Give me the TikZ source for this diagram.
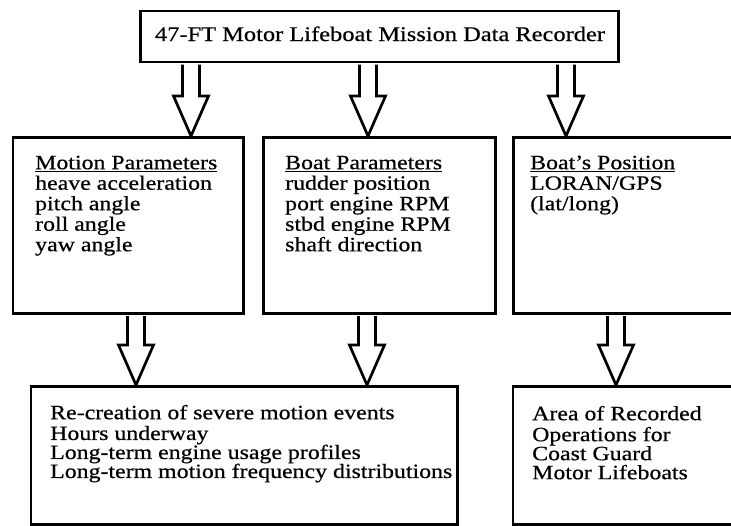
\documentclass[tikz,border=0pt]{standalone}
\usepackage{fontspec}
\setmainfont{Liberation Serif}[FakeStretch=1.175,FakeBold=0.5]
\usetikzlibrary{calc}
\tikzset{
  boxshape/.style={draw, line width=2.8pt, rectangle, inner sep=0pt, anchor=north west},
  txt/.style={inner sep=0pt, anchor=north west, align=left, font=\fontsize{20.3}{20.5}\selectfont},
  txtlow/.style={inner sep=0pt, anchor=north west, align=left, font=\fontsize{20.3}{19}\selectfont},
  toptxt/.style={inner sep=0pt, anchor=base, font=\fontsize{20.8}{21}\selectfont},
  barrow/.style={draw, line width=2.7pt, fill=white, line join=miter},
}
\newcommand\blockarrow[3]{%
  \draw[barrow] let \p1=(#2.south), \p2=(#3.north), \p3=(#1,0) in
    (\x3-8.5pt,\y1-1.4pt) -- (\x3-8.5pt,\y2+40pt) -- (\x3-17.5pt,\y2+40pt) --
    (\x3,\y2) -- (\x3+17.5pt,\y2+40pt) -- (\x3+8.5pt,\y2+40pt) -- (\x3+8.5pt,\y1-1.4pt);}
\begin{document}
\begin{tikzpicture}[x=1pt,y=-1pt]
\useasboundingbox (0,0) rectangle (731,525);
\fill[white] (0,0) rectangle (731,525);
\clip (0,0) rectangle (731,525);
% boxes
\node[boxshape, minimum width=478pt, minimum height=51pt] (top) at (139,9.5) {};
\node[boxshape, minimum width=230.5pt, minimum height=176pt] (mp) at (11.5,136) {};
\node[boxshape, minimum width=232pt, minimum height=176pt] (bp) at (262,136) {};
\node[boxshape, minimum width=260pt, minimum height=176pt] (pos) at (512,136) {};
\node[boxshape, minimum width=426.5pt, minimum height=138pt] (res) at (29.5,385) {};
\node[boxshape, minimum width=260pt, minimum height=138pt] (area) at (511.5,385) {};
% texts
\node[toptxt] (toptext) at (380,41) {47-FT Motor Lifeboat Mission Data Recorder};
\node[txt] (mptext) at (35,154.65) {\strut\underline{Motion Parameters}\\heave acceleration\\pitch angle\\roll angle\\yaw angle};
\node[txt] (bptext) at (285,154.65) {\strut\underline{Boat Parameters}\\rudder position\\port engine RPM\\stbd engine RPM\\shaft direction};
\node[txt] (postext) at (530,154.65) {\strut\underline{Boat’s Position}\\LORAN/GPS\\(lat/long)};
\node[txtlow] (restext) at (50,404.7) {\strut Re-creation of severe motion events\\Hours underway\\Long-term engine usage profiles\\Long-term motion frequency distributions};
\node[txtlow] (areatext) at (532,405.7) {\strut Area of Recorded\\Operations for\\Coast Guard\\Motor Lifeboats};
% block arrows
\blockarrow{191}{top}{mp}
\blockarrow{368}{top}{bp}
\blockarrow{566}{top}{pos}
\blockarrow{136}{mp}{res}
\blockarrow{367}{bp}{res}
\blockarrow{616}{pos}{area}
\end{tikzpicture}
\end{document}
